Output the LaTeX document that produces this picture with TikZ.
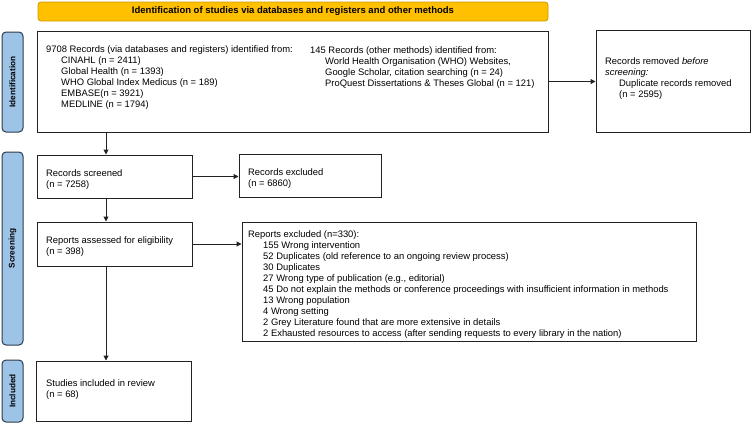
\documentclass[tikz,border=0pt]{standalone}
\usepackage{fontspec}
\setmainfont{Liberation Sans}
\usetikzlibrary{arrows.meta,fit}
\definecolor{linec}{HTML}{222222}
\definecolor{barfill}{HTML}{FFC000}
\definecolor{bardraw}{HTML}{C99A00}
\definecolor{sidefill}{HTML}{9DC3E6}
\definecolor{sidedraw}{HTML}{2E3B4E}
\begin{document}
\begin{tikzpicture}[x=1pt,y=-1pt,
  boxs/.style={draw=linec,line width=1pt,inner sep=0pt},
  side/.style={draw=sidedraw,fill=sidefill,line width=1pt,rounded corners=4pt,inner sep=0pt,rotate=90,font=\bfseries\fontsize{8.2}{9.6}\selectfont},
  bar/.style={draw=bardraw,fill=barfill,line width=0.8pt,rounded corners=3pt,inner sep=0pt,font=\bfseries\fontsize{9.5}{11}\selectfont},
  txt/.style={anchor=north west,inner sep=0pt,align=left,font=\fontsize{9.4}{11}\selectfont},
  arr/.style={draw=linec,line width=1pt,-{Triangle[length=5pt,width=5pt]}}]
\useasboundingbox (0,0) rectangle (751,423);
% title bar
\node[bar,minimum width=510pt,minimum height=19pt] (title) at (293,11.5) {Identification of studies via databases and registers and other methods};
% side bars
\node[side,minimum width=100pt,minimum height=21pt] (sid) at (12.5,82) {Identification};
\node[side,minimum width=193pt,minimum height=21pt] (sscr) at (12.5,248.5) {Screening};
\node[side,minimum width=62pt,minimum height=21pt] (sinc) at (12.5,391) {Included};
% boxes
\node[boxs,fit={(37,31)(548,132)}] (box1) {};
\node[boxs,fit={(596,30)(750,132)}] (removed) {};
\node[boxs,fit={(37,155)(192,198)}] (screened) {};
\node[boxs,fit={(239,154)(381,197)}] (recexcl) {};
\node[boxs,fit={(37,222)(192,266)}] (assessed) {};
\node[boxs,fit={(242,222)(696,341)}] (repexcl) {};
\node[boxs,fit={(36,361)(191,421)}] (included) {};
% texts
\node[txt] (t1a) at (46,45.2) {9708 Records (via databases and registers) identified from:\\
\hspace*{15pt}CINAHL (n = 2411)\\
\hspace*{15pt}Global Health (n = 1393)\\
\hspace*{15pt}WHO Global Index Medicus (n = 189)\\
\hspace*{15pt}EMBASE(n = 3921)\\
\hspace*{15pt}MEDLINE (n = 1794)};
\node[txt] (t1b) at (310,46.2) {145 Records (other methods) identified from:\\
\hspace*{15pt}World Health Organisation (WHO) Websites,\\
\hspace*{15pt}Google Scholar, citation searching (n = 24)\\
\hspace*{15pt}ProQuest Dissertations \& Theses Global (n = 121)};
\node[txt] (t2) at (605,57.2) {Records removed \textit{before}\\
\textit{screening:}\\
\hspace*{14pt}Duplicate records removed\\
\hspace*{14pt}(n = 2595)};
\node[txt] (t3) at (46,169.2) {Records screened\\(n = 7258)};
\node[txt] (t4) at (248,168.2) {Records excluded\\(n = 6860)};
\node[txt] (t5) at (46,236.2) {Reports assessed for eligibility\\(n = 398)};
\node[txt] (t6) at (248,230.2) {Reports excluded (n=330):\\
\hspace*{15pt}155 Wrong intervention\\
\hspace*{15pt}52 Duplicates (old reference to an ongoing review process)\\
\hspace*{15pt}30 Duplicates\\
\hspace*{15pt}27 Wrong type of publication (e.g., editorial)\\
\hspace*{15pt}45 Do not explain the methods or conference proceedings with insufficient information in methods\\
\hspace*{15pt}13 Wrong population\\
\hspace*{15pt}4 Wrong setting\\
\hspace*{15pt}2 Grey Literature found that are more extensive in details\\
\hspace*{15pt}2 Exhausted resources to access (after sending requests to every library in the nation)};
\node[txt] (t7) at (46,379.2) {Studies included in review\\(n = 68)};
% connectors
\coordinate (ax) at (106,0);
\draw[arr] (box1.south -| ax) -- (screened.north -| ax);
\draw[arr] (screened.south -| ax) -- (assessed.north -| ax);
\draw[arr] (assessed.south -| ax) -- (included.north -| ax);
\draw[arr] (box1.east) -- (box1.east -| removed.west);
\draw[arr] (screened.east) -- (screened.east -| recexcl.west);
\draw[arr] (assessed.east) -- (assessed.east -| repexcl.west);
\end{tikzpicture}
\end{document}
